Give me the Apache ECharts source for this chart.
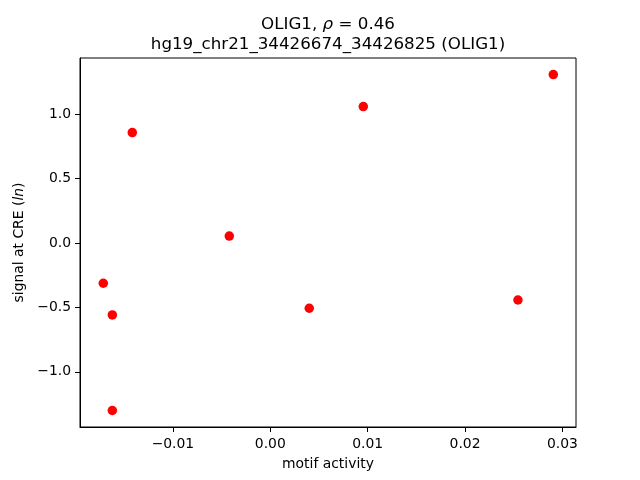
<!DOCTYPE html>
<html><head><meta charset="utf-8">
<script src="https://cdn.jsdelivr.net/npm/echarts@6/dist/echarts.min.js"></script>
<style>html,body{margin:0;padding:0;background:#fff}#c{width:640px;height:480px}</style>
</head><body><div id="c"></div>
<script>
const motifActivity = [-0.01715, -0.01622, -0.01622, -0.01417, -0.00421, 0.00400, 0.00955, 0.02543, 0.02906];
const signalAtCRE   = [-0.312, -0.558, -1.300, 0.858, 0.054, -0.506, 1.060, -0.442, 1.308];
const xTicks = [-0.01, 0.00, 0.01, 0.02, 0.03];
const yTicks = [-1.0, -0.5, 0.0, 0.5, 1.0];
const titleLine1 = 'OLIG1, ';
const rhoValue = '0.46';
const titleLine2 = 'hg19_chr21_34426674_34426825 (OLIG1)';

const F = 'DejaVu Sans';
const fmt = (v, d) => { const s = Math.abs(v).toFixed(d); return (v < -1e-12 ? '\u2212' : '') + s; };
const points = motifActivity.map((x, i) => [x, signalAtCRE[i]]);

const chart = echarts.init(document.getElementById('c'), null, {renderer: 'canvas'});
chart.setOption({
  animation: false,
  backgroundColor: '#fff',
  graphic: [{
    type: 'text', x: 328, y: 15,
    style: {
      text: '{n|' + titleLine1 + '}{i|ρ}{n| = ' + rhoValue + '}\n{n|' + titleLine2 + '}',
      align: 'center', verticalAlign: 'top',
      rich: {
        n: {fontFamily: F, fontSize: 16.7, fill: '#000', fontWeight: 'normal', lineHeight: 20},
        i: {fontFamily: F, fontSize: 16.7, fill: '#000', fontWeight: 'normal', fontStyle: 'italic', lineHeight: 20}
      }
    }
  }],
  grid: {left: 80, right: 64, top: 58, bottom: 53, show: true, borderColor: '#000', borderWidth: 1, backgroundColor: 'transparent'},
  xAxis: {
    type: 'value', min: -0.01954, max: 0.03139,
    name: 'motif activity', nameLocation: 'middle', nameGap: 30,
    nameTextStyle: {fontFamily: F, fontSize: 13.9, color: '#000'},
    axisLine: {show: true, onZero: false, lineStyle: {color: '#000', width: 1}},
    axisTick: {show: true, inside: false, length: 5, customValues: xTicks, lineStyle: {color: '#000'}},
    axisLabel: {customValues: xTicks, fontFamily: F, fontSize: 13.9, color: '#000', margin: 10, formatter: v => fmt(v, 2)},
    splitLine: {show: false}
  },
  yAxis: {
    type: 'value', min: -1.428, max: 1.437,
    name: 'signal at CRE ({i|ln})', nameLocation: 'middle', nameGap: 52, nameRotate: 90,
    nameTextStyle: {fontFamily: F, fontSize: 13.9, color: '#000',
      rich: {i: {fontFamily: F, fontSize: 13.9, color: '#000', fontStyle: 'italic'}}},
    axisLine: {show: true, onZero: false, lineStyle: {color: '#000', width: 1}},
    axisTick: {show: true, inside: false, length: 5, customValues: yTicks, lineStyle: {color: '#000'}},
    axisLabel: {customValues: yTicks, fontFamily: F, fontSize: 13.9, color: '#000', margin: 9, formatter: v => fmt(v, 1)},
    splitLine: {show: false}
  },
  series: [{
    type: 'scatter', data: points, symbol: 'circle', symbolSize: 9.5,
    itemStyle: {color: '#ff0000', opacity: 1}
  }]
});
</script></body></html>
